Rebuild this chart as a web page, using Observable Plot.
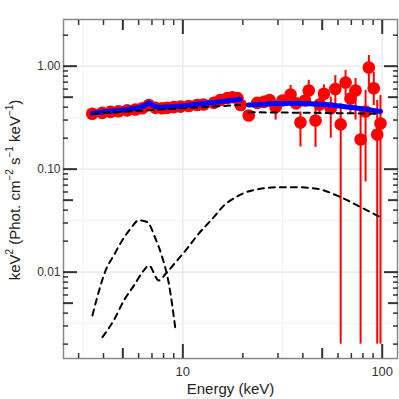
<!DOCTYPE html>
<html><head><meta charset="utf-8">
<script src="https://cdn.jsdelivr.net/npm/d3@7"></script>
<script src="https://cdn.jsdelivr.net/npm/@observablehq/plot@0.6"></script>
<style>body{margin:0;background:#fff;font-family:"Liberation Sans",Arial,sans-serif}</style>
</head><body><div id="chart"></div>
<script>
// ---- data: low-energy instrument spectrum ----
const lowE = [3.51,3.94,4.34,4.76,5.26,5.79,6.26,6.75,7.29,7.88,8.35,9.01,9.74,10.7,11.8,12.7,14.3,15.4,16.7,17.7,18.8,19.5];
const lowF = [0.345,0.352,0.36,0.365,0.372,0.38,0.39,0.42,0.395,0.39,0.395,0.40,0.405,0.41,0.42,0.425,0.44,0.47,0.49,0.50,0.49,0.42];
const lowLo = [0.335,0.342,0.35,0.355,0.362,0.37,0.38,0.41,0.385,0.38,0.385,0.39,0.395,0.40,0.41,0.41,0.425,0.455,0.47,0.48,0.47,0.40];
const lowHi = [0.355,0.362,0.37,0.375,0.382,0.39,0.40,0.43,0.405,0.40,0.405,0.41,0.415,0.42,0.43,0.44,0.455,0.485,0.51,0.52,0.51,0.44];
// ---- data: high-energy instrument spectrum ----
const highE = [21.4,23.6,25.5,27.2,29.2,31.6,34.7,37.0,38.9,41.0,42.8,46.3,48.5,51.0,55.2,58.2,61.9,65.5,69.3,73.5,77.9,82.5,85.7,90.7,94.4,98.0];
const highF = [0.332,0.44,0.45,0.47,0.40,0.465,0.53,0.435,0.284,0.465,0.58,0.297,0.425,0.54,0.39,0.60,0.272,0.695,0.486,0.58,0.194,0.363,0.97,0.61,0.217,0.278];
const highLo = [0.32,0.42,0.42,0.44,0.30,0.43,0.45,0.39,0.164,0.42,0.415,0.163,0.35,0.43,0.20,0.415,0.002,0.52,0.35,0.30,0.002,0.075,0.65,0.415,0.002,0.002];
const highHi = [0.345,0.46,0.48,0.50,0.46,0.50,0.65,0.48,0.36,0.51,0.73,0.434,0.50,0.66,0.50,0.81,0.43,0.91,0.60,0.76,0.37,0.58,1.27,0.87,0.465,0.52];
// ---- model: total ----
const modelLowE = [3.52,4.0,5.0,6.0,6.37,6.75,7.2,7.6,8.0,10.0,12.0,15.0,19.4];
const modelLowF = [0.35,0.36,0.375,0.395,0.41,0.44,0.41,0.398,0.40,0.41,0.43,0.45,0.477];
const modelHighE = [21.4,25.0,30.0,36.0,45.0,55.0,64.0,80.0,98.0];
const modelHighF = [0.42,0.428,0.435,0.437,0.43,0.42,0.406,0.385,0.363];
// ---- model components ----
const plLowE = [3.52,5.0,7.0,10.0,14.0,19.4];
const plLowF = [0.345,0.36,0.375,0.39,0.405,0.42];
const plHighE = [21.4,40.0,60.0,95.0];
const plHighF = [0.357,0.353,0.35,0.345];
const gaussE = [3.52,3.72,4.1,4.5,4.97,5.47,6.0,6.63,7.3,7.88,8.51,9.2];
const gaussF = [0.0038,0.0057,0.0104,0.0145,0.0204,0.0264,0.0318,0.0306,0.021,0.014,0.0077,0.0027];
const reflE = [3.95,4.5,5.06,5.68,6.37,6.75,7.58,8.18,9.37,10.5,11.8,14.3,16.0,18.0,20.0,24.5,30.0,36.0,47.0,61.8,78.0,97.9];
const reflF = [0.00234,0.0034,0.0053,0.0074,0.0104,0.0116,0.0083,0.0096,0.013,0.0169,0.0227,0.0342,0.044,0.052,0.058,0.0645,0.0668,0.0669,0.0645,0.0535,0.0428,0.0342];
// ---- axes ----
const xMajor = [10,100], xMid = [5,50], xMinor = [3,4,6,7,8,9,20,30,40,60,70,80,90];
const xLabels = ["10","100"];
const yMajor = [0.01,0.1,1], yMid = [0.005,0.05,0.5];
const yMinor = [0.002,0.003,0.004,0.006,0.007,0.008,0.009,0.02,0.03,0.04,0.06,0.07,0.08,0.09,0.2,0.3,0.4,0.6,0.7,0.8,0.9,2];
const yLabels = ["0.01","0.10","1.00"];
const xGridMinor = [3.1623,31.623], yGridMinor = [0.0031623,0.031623,0.31623];
const xTitle = "Energy (keV)";

const zip = (E,F,L,H) => E.map((e,i)=>({E:e,F:F[i],lo:L?L[i]:null,hi:H?H[i]:null}));
const low = zip(lowE,lowF,lowLo,lowHi), high = zip(highE,highF,highLo,highHi);
const mLow = zip(modelLowE,modelLowF), mHigh = zip(modelHighE,modelHighF);
const pLow = zip(plLowE,plLowF), pHigh = zip(plHighE,plHighF);
const gau = zip(gaussE,gaussF), refl = zip(reflE,reflF);

const dash = {x:"E", y:"F", stroke:"black", strokeWidth:2, strokeDasharray:"6,5", curve:"monotone-x"};
const noText = {tickFormat:()=>"", label:null};
function axisSet(){
  const marks = [];
  for (const anchor of ["bottom","top"]) {
    marks.push(Plot.axisX(xMajor,{anchor, tickSize:-14, strokeWidth:2, ...noText}));
    marks.push(Plot.axisX(xMid,{anchor, tickSize:-10, strokeWidth:2, ...noText}));
    marks.push(Plot.axisX(xMinor,{anchor, tickSize:-5, strokeWidth:1.5, ...noText}));
  }
  for (const anchor of ["left","right"]) {
    marks.push(Plot.axisY(yMajor,{anchor, tickSize:-14, strokeWidth:2, ...noText}));
    marks.push(Plot.axisY(yMid,{anchor, tickSize:-10, strokeWidth:2, ...noText}));
    marks.push(Plot.axisY(yMinor,{anchor, tickSize:-5, strokeWidth:1.5, ...noText}));
  }
  return marks;
}

const chart = Plot.plot({
  width:399, height:399,
  marginLeft:63, marginRight:2, marginTop:19, marginBottom:41,
  style:{fontFamily:'"Liberation Sans",Arial,sans-serif', fontSize:"12px", color:"#333"},
  x:{type:"log", domain:[2.52,119.3], label:null},
  y:{type:"log", domain:[0.00145,2.84], label:null},
  marks:[
    Plot.gridX(xGridMinor,{stroke:"#f2f2f2", strokeOpacity:1, strokeWidth:1}),
    Plot.gridY(yGridMinor,{stroke:"#f2f2f2", strokeOpacity:1, strokeWidth:1}),
    Plot.gridX(xMajor,{stroke:"#e6e6e6", strokeOpacity:1, strokeWidth:1.2}),
    Plot.gridY(yMajor,{stroke:"#e6e6e6", strokeOpacity:1, strokeWidth:1.2}),
    Plot.ruleX(low,{x:"E", y1:"lo", y2:"hi", stroke:"red", strokeWidth:2}),
    Plot.ruleX(high,{x:"E", y1:"lo", y2:"hi", stroke:"red", strokeWidth:2}),
    Plot.dot(low,{x:"E", y:"F", r:6.3, fill:"red", stroke:"none"}),
    Plot.dot(high,{x:"E", y:"F", r:6.3, fill:"red", stroke:"none"}),
    Plot.line(mLow,{x:"E", y:"F", stroke:"blue", strokeWidth:5, curve:"linear"}),
    Plot.line(mHigh,{x:"E", y:"F", stroke:"blue", strokeWidth:5, curve:"monotone-x"}),
    Plot.line(pLow, dash),
    Plot.line(pHigh, dash),
    Plot.line(gau, dash),
    Plot.line(refl, dash),
    Plot.frame({stroke:"#888", strokeWidth:1.5}),
    ...axisSet(),
    Plot.text(xMajor,{x:d=>d, text:(d,i)=>xLabels[i], frameAnchor:"bottom", dy:13, fontSize:13, fill:"#333", textAnchor:"middle", lineAnchor:"middle"}),
    Plot.text(yMajor,{y:d=>d, text:(d,i)=>yLabels[i], frameAnchor:"left", dx:-3, fontSize:12, fill:"#333", textAnchor:"end", lineAnchor:"middle"}),
    Plot.text([xTitle],{frameAnchor:"bottom", dy:31, fontSize:15, fill:"#222", textAnchor:"middle", lineAnchor:"middle"})
  ]
});
// y-axis title with true superscripts
const svg = d3.select(chart);
const t = svg.append("text")
  .attr("transform","translate(16,190) rotate(-90)")
  .attr("text-anchor","middle").attr("dominant-baseline","middle")
  .attr("font-size",15).attr("fill","#222")
  .attr("font-family",'"Liberation Sans",Arial,sans-serif');
const parts = [["keV",0],["2",1],[" (Phot. cm",0],["−2",1],[" s",0],["−1",1],[" keV",0],["−1",1],[")",0]];
parts.forEach(([s,sup],i)=>{
  const ts = t.append("tspan").text(s);
  if (sup) ts.attr("font-size",10).attr("dy","-0.6em");
  else if (i>0 && parts[i-1][1]) ts.attr("dy","0.4em");
});
document.getElementById("chart").appendChild(chart);
</script></body></html>
